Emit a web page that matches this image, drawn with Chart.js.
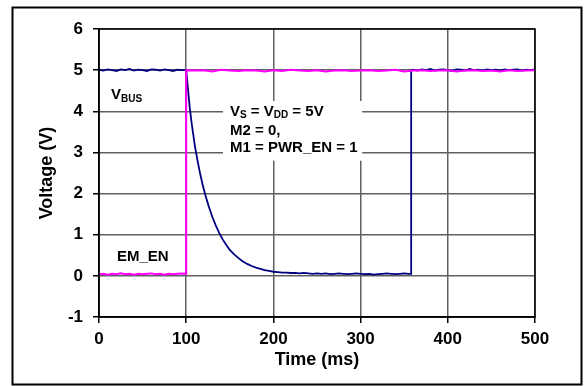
<!DOCTYPE html>
<html>
<head>
<meta charset="utf-8">
<script src="https://cdn.jsdelivr.net/npm/chart.js@4.4.0/dist/chart.umd.min.js"></script>
<style>
html,body{margin:0;padding:0;background:#fff;}
canvas{display:block;}
</style>
</head>
<body>
<canvas id="c" width="586" height="386"></canvas>
<script>
// ---------- data ----------
const xTicks = [0, 100, 200, 300, 400, 500];
const yTicks = [-1, 0, 1, 2, 3, 4, 5, 6];

// VBUS (navy)
const vbusTime = [
  0,5,10,15,20,25,30,35,40,45,50,55,60,65,70,75,80,85,90,95,100,
  102,104,106,108,110,113,116,119,122,126,130,134,138,142,146,150,155,160,165,170,175,180,185,190,195,200,205,210,215,220,225,230,235,240,245,250,
  255,260,265,270,275,280,285,290,295,300,305,310,315,320,325,330,335,340,345,350,355,358,
  358,360,365,370,375,380,385,390,395,400,405,410,415,420,425,430,435,440,445,450,455,460,465,470,475,480,485,490,495,500
];
const vbusVolt = [
  5.01,4.99,5.02,5.00,4.98,5.02,5.00,5.03,4.99,5.01,5.00,4.98,5.02,5.01,4.99,5.02,5.00,4.98,5.01,5.00,5.00,
  4.55,4.10,3.75,3.45,3.15,2.80,2.48,2.20,1.96,1.68,1.43,1.22,1.04,0.88,0.75,0.63,0.52,0.43,0.35,0.29,0.24,0.20,0.17,0.14,0.12,0.10,0.09,0.08,0.08,0.07,0.07,0.06,0.07,0.06,0.05,0.06,
  0.05,0.06,0.04,0.05,0.06,0.05,0.04,0.05,0.06,0.05,0.04,0.05,0.03,0.04,0.05,0.06,0.05,0.04,0.05,0.06,0.05,0.05,
  5.00,5.01,4.99,5.02,5.00,5.03,4.99,5.01,5.02,5.00,4.98,5.02,5.01,4.99,5.03,5.00,5.01,4.99,5.02,5.00,5.01,4.99,5.02,5.00,5.01,5.02,4.99,5.01,5.00,5.02
];

// EM_EN (magenta)
const emenTime = [
  0,5,10,15,20,25,30,35,40,45,50,55,60,65,70,75,80,85,90,95,100,
  100,110,120,130,140,150,160,170,180,190,200,210,220,230,240,250,260,270,280,290,300,
  310,320,330,340,350,360,370,380,390,400,410,420,430,440,450,460,470,480,490,500
];
const emenVolt = [
  0.04,0.05,0.03,0.05,0.04,0.06,0.04,0.05,0.03,0.05,0.04,0.05,0.06,0.04,0.05,0.03,0.05,0.04,0.05,0.06,0.05,
  5.00,4.99,5.00,4.97,5.01,4.99,4.98,5.00,4.99,4.97,5.00,4.98,5.01,4.99,4.98,5.00,4.97,4.99,5.00,4.98,4.99,
  5.00,4.98,4.99,5.01,4.97,4.99,5.00,4.98,4.99,5.00,4.97,4.99,5.00,4.98,4.99,4.97,5.00,4.98,4.99,5.00
];

// label texts and their anchor points (data coordinates)
const vbusLabel = { parts: [["V", false], ["BUS", true]], t: 13.8, v: 4.40 };
const emenLabel = { parts: [["EM_EN", false]], t: 20.6, v: 0.47 };
const noteLines = [
  { parts: [["V", false], ["S", true], [" = V", false], ["DD", true], [" = 5V", false]], v: 3.99 },
  { parts: [["M2 = 0,", false]], v: 3.53 },
  { parts: [["M1 = PWR_EN = 1", false]], v: 3.11 }
];
const noteT = 150.2;
const noteBox = { t0: 142.2, t1: 301.8, v0: 4.25, v1: 2.80 };

const toXY = (ts, vs) => ts.map((t, i) => ({ x: t, y: vs[i] }));

const FONT = "'Liberation Sans', Arial, sans-serif";

function drawParts(ctx, parts, x, y) {
  let cx = x;
  ctx.textBaseline = 'middle';
  ctx.textAlign = 'left';
  for (const [txt, sub] of parts) {
    ctx.font = (sub ? 'bold 10px ' : 'bold 15px ') + FONT;
    ctx.fillText(txt, cx, sub ? y + 4 : y);
    cx += ctx.measureText(txt).width;
  }
}

const decor = {
  id: 'decor',
  beforeDraw(chart) {
    const ctx = chart.ctx;
    ctx.save();
    ctx.fillStyle = '#fff';
    ctx.fillRect(0, 0, chart.width, chart.height);
    ctx.restore();
  },
  beforeDatasetsDraw(chart) {
    const ctx = chart.ctx;
    const xs = chart.scales.x, ys = chart.scales.y;
    ctx.save();
    // white box behind the note
    const bx0 = xs.getPixelForValue(noteBox.t0), bx1 = xs.getPixelForValue(noteBox.t1);
    const by0 = ys.getPixelForValue(noteBox.v0), by1 = ys.getPixelForValue(noteBox.v1);
    ctx.fillStyle = '#fff';
    ctx.fillRect(bx0, by0, bx1 - bx0, by1 - by0);
    ctx.fillStyle = '#000';
    for (const ln of noteLines) {
      drawParts(ctx, ln.parts, xs.getPixelForValue(noteT), ys.getPixelForValue(ln.v));
    }
    drawParts(ctx, vbusLabel.parts, xs.getPixelForValue(vbusLabel.t), ys.getPixelForValue(vbusLabel.v));
    drawParts(ctx, emenLabel.parts, xs.getPixelForValue(emenLabel.t), ys.getPixelForValue(emenLabel.v));
    ctx.restore();
  },
  afterDraw(chart) {
    const ctx = chart.ctx;
    const a = chart.chartArea;
    ctx.save();
    ctx.strokeStyle = '#000';
    ctx.lineWidth = 1.5;
    ctx.strokeRect(a.left, a.top, a.right - a.left, a.bottom - a.top);
    ctx.lineWidth = 2;
    ctx.strokeRect(12.5, 7.5, 569, 377);
    ctx.restore();
  }
};

new Chart(document.getElementById('c'), {
  type: 'line',
  data: {
    datasets: [
      { label: 'EM_EN', data: toXY(emenTime, emenVolt), borderColor: '#ff00ff', borderWidth: 2, pointRadius: 0, tension: 0, fill: false },
      { label: 'VBUS', data: toXY(vbusTime, vbusVolt), borderColor: '#000080', borderWidth: 1.8, pointRadius: 0, tension: 0, fill: false }
    ]
  },
  options: {
    responsive: false,
    animation: false,
    layout: { padding: { left: 0, top: 29, right: 51, bottom: 0 } },
    plugins: { legend: { display: false }, tooltip: { enabled: false } },
    scales: {
      x: {
        type: 'linear', min: 0, max: 500,
        afterBuildTicks: s => { s.ticks = xTicks.map(v => ({ value: v })); },
        afterFit: s => { s.height = 69; },
        grid: { color: '#606060', lineWidth: 1.5, tickColor: '#000', tickLength: 6, tickWidth: 1.5 },
        border: { color: '#000', width: 1.5 },
        ticks: { color: '#000', font: { family: FONT, size: 17, weight: 'bold' }, padding: 6, maxRotation: 0 },
        title: { display: true, text: 'Time (ms)', color: '#000', font: { family: FONT, size: 18, weight: 'bold' }, padding: { top: 0, bottom: 15 } }
      },
      y: {
        type: 'linear', min: -1, max: 6,
        afterBuildTicks: s => { s.ticks = yTicks.map(v => ({ value: v })); },
        afterFit: s => { s.width = 99; },
        grid: { color: '#606060', lineWidth: 1.5, tickColor: '#000', tickLength: 6, tickWidth: 1.5 },
        border: { color: '#000', width: 1.5 },
        ticks: { color: '#000', font: { family: FONT, size: 17, weight: 'bold' }, padding: 10 },
        title: { display: true, text: 'Voltage (V)', color: '#000', font: { family: FONT, size: 18, weight: 'bold' }, padding: { top: 36, bottom: 0 } }
      }
    }
  },
  plugins: [decor]
});
</script>
</body>
</html>
